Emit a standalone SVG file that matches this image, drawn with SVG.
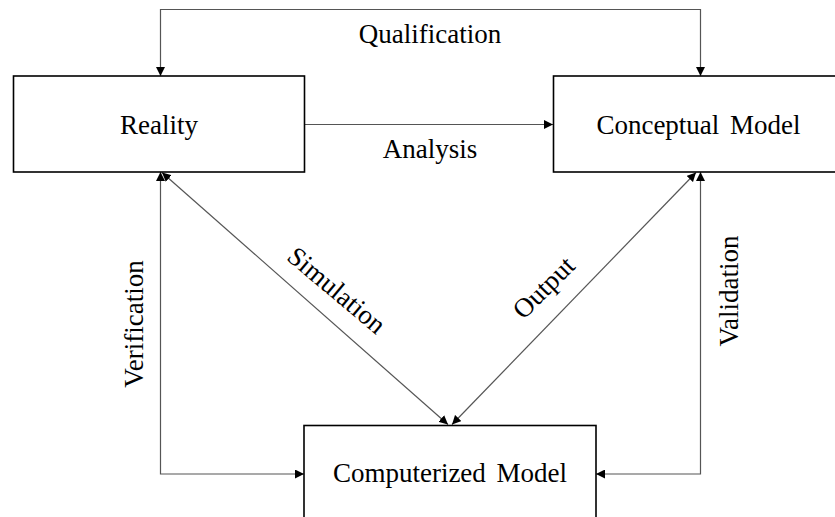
<svg xmlns="http://www.w3.org/2000/svg" width="835" height="517" viewBox="0 0 835 517">
  <style>
    .box { fill: #fff; stroke: #000; stroke-width: 1.6; }
    .lbl { font-family: "Liberation Serif", "Times New Roman", serif; font-size: 27px; fill: #000; text-anchor: middle; word-spacing: 4px; }
    .conn { fill: none; stroke: #555; stroke-width: 1.2; marker-start: url(#head); marker-end: url(#head); }
    .one { marker-start: none; }
  </style>
  <defs>
    <marker id="head" viewBox="0 0 10 10" refX="10" refY="5" markerWidth="9" markerHeight="9" markerUnits="userSpaceOnUse" orient="auto-start-reverse">
      <path d="M0,0 L10,5 L0,10 Z" fill="#000"/>
    </marker>
  </defs>
  <rect width="835" height="517" fill="#fff"/>

  <g id="connectors">
    <path class="conn" d="M160.5,76 V9.5 H700.5 V76"/>
    <path class="conn one" d="M305,124.5 H553"/>
    <path class="conn" d="M160.5,172 V474 H304"/>
    <path class="conn" d="M596,474 H700.5 V172"/>
    <path class="conn" d="M162,172.5 L448,424.5"/>
    <path class="conn" d="M452,424.5 L696,172.5"/>
    <text class="lbl" x="430" y="43">Qualification</text>
    <text class="lbl" x="430" y="158">Analysis</text>
    <text class="lbl" transform="translate(143 324) rotate(-90)">Verification</text>
    <text class="lbl" transform="translate(738 291) rotate(-90)">Validation</text>
    <text class="lbl" transform="translate(331 297) rotate(40)">Simulation</text>
    <text class="lbl" transform="translate(550 294) rotate(-45)">Output</text>
  </g>

  <g id="reality">
    <rect class="box" x="13.5" y="76" width="291" height="96"/>
    <text class="lbl" x="159" y="134">Reality</text>
  </g>
  <g id="conceptual-model">
    <rect class="box" x="553.5" y="76" width="290" height="96"/>
    <text class="lbl" x="698.5" y="134">Conceptual Model</text>
  </g>
  <g id="computerized-model">
    <rect class="box" x="304" y="425.5" width="292" height="96"/>
    <text class="lbl" x="450" y="482">Computerized Model</text>
  </g>
</svg>
